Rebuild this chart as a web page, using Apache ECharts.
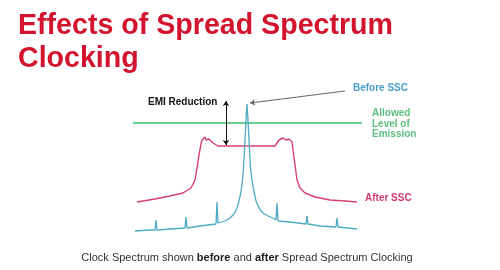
<!DOCTYPE html>
<html><head><meta charset="utf-8">
<script src="https://cdn.jsdelivr.net/npm/echarts@6/dist/echarts.min.js"></script>
<style>html,body{margin:0;padding:0;background:#fff}#c{width:500px;height:270px}</style>
</head><body><div id="c"></div>
<script>
// frequency offset (arbitrary units, 0 = clock frequency) and level (arbitrary units)
const beforeFreq = [-112,-97,-92,-91,-90,-77,-62,-61,-60,-47,-31,-30,-29,-22,-17,-13,-10,-8,-6,-4.5,-3.5,-2.5,-1.5,-0.7,0,0.7,1.5,2.5,3.5,5,7,9,12,16,21,26,29,30,31,43,59,60,61,73,89,90,91,110];
const beforeLevel = [1,2,2,12,2,3,4,15,4,6,8,30,9,11,14,18,24,31,40,52,64,82,102,117,128,117,102,82,64,52,40,31,24,19,16,14,12,29,11,10,8,16,8,6,5,14,5,3];
const afterFreq = [-110,-92,-77,-64,-56,-52,-50,-48,-46,-45,-44,-43,-42,-41,-40,-39,-38,-37,-36,-34,-32,-29,28,30,32,34,36,37,38,39,40,41,42,43,45,46,48,50,53,58,68,83,98,110];
const afterLevel = [30,33,36,39,44,52,64,77,88,92,93,91,95,92,94,91,93,91,92,89,87,86,86,89,92,91,94,92,95,92,94,91,93,92,90,82,67,52,44,39,35,32,31,30];
const allowedFreq = [-114,115];
const allowedLevel = [109,109];
const emiArrow = [[-21,131],[-21,87]];
const beforePointer = [[98,141],[3,129]];

const zip = (a,b)=>a.map((v,i)=>[v,b[i]]);
const chart = echarts.init(document.getElementById('c'), null, {renderer:'canvas'});
chart.setOption({
  animation:false,
  backgroundColor:'#fff',
  title:{
    text:'Effects of Spread Spectrum\nClocking',
    left:18, top:10, padding:0,
    textStyle:{fontFamily:'Liberation Sans',fontWeight:'bold',fontSize:28.6,lineHeight:33,color:'#d2142f'}
  },
  grid:{left:133,right:120,top:80,bottom:38},
  xAxis:{type:'value',min:-114,max:133,show:false},
  yAxis:{type:'value',min:0,max:152,show:false},
  series:[
    {type:'line',data:zip(allowedFreq,allowedLevel),showSymbol:false,
     lineStyle:{color:'#3dbb6e',width:1.5},silent:true},
    {type:'line',data:zip(afterFreq,afterLevel),showSymbol:false,clip:false,
     lineStyle:{color:'#d5407a',width:1.4},silent:true},
    {type:'line',data:zip(beforeFreq,beforeLevel),showSymbol:false,clip:false,
     lineStyle:{color:'#4faac2',width:1.3},silent:true,
     markLine:{silent:true,animation:false,label:{show:false},
       data:[
         [{coord:emiArrow[0],symbol:'arrow',symbolSize:5,lineStyle:{color:'#111',width:1,type:'solid'}},
          {coord:emiArrow[1],symbol:'arrow',symbolSize:5}],
         [{coord:beforePointer[0],symbol:'none',lineStyle:{color:'#666',width:1,type:'solid'}},
          {coord:beforePointer[1],symbol:'arrow',symbolSize:5}]
       ]}}
  ],
  graphic:[
    {type:'text',left:148,top:97,style:{text:'EMI Reduction',font:'bold 10px "Liberation Sans"',fill:'#111'}},
    {type:'text',left:353,top:83,style:{text:'Before SSC',font:'bold 10px "Liberation Sans"',fill:'#4b9fc9'}},
    {type:'text',left:372,top:108,style:{text:'Allowed\nLevel of\nEmission',font:'bold 10px "Liberation Sans"',lineHeight:10.5,fill:'#5cbf7f'}},
    {type:'text',left:365,top:193,style:{text:'After SSC',font:'bold 10px "Liberation Sans"',fill:'#d23a72'}},
    {type:'text',x:247,y:258,style:{
      text:'{n|Clock Spectrum shown }{b|before}{n| and }{b|after}{n| Spread Spectrum Clocking}',
      align:'center',verticalAlign:'middle',
      rich:{n:{font:'11px "Liberation Sans"',fill:'#333'},b:{font:'bold 11px "Liberation Sans"',fill:'#222'}}}}
  ]
});
</script></body></html>
